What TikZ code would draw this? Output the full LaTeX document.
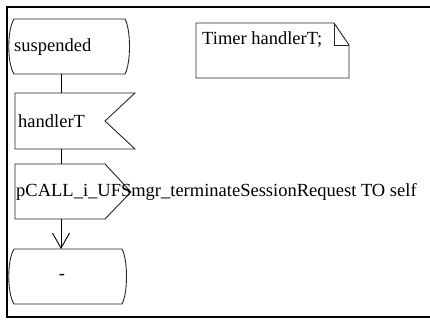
\documentclass[tikz,border=0pt]{standalone}
\usepackage{fontspec}
\setmainfont{Liberation Serif}
\usetikzlibrary{arrows.meta}
\begin{document}
\begin{tikzpicture}[x=1pt,y=-1pt,
  shape line/.style={draw=black!85,line width=0.9pt},
  frame line/.style={draw=black,line width=2.2pt},
  lbl/.style={anchor=west,inner sep=0pt,font=\fontsize{18.5}{20}\selectfont},
  flow/.style={draw=black,line width=0.9pt}]
\useasboundingbox (0,0) rectangle (430,320);
% frame
\draw[frame line] (430,7) -- (7,7) -- (7,317) -- (430,317);
% state suspended
\draw[shape line] (14,19) -- (125,19) .. controls (131,30) and (131,63) .. (125,74)
  -- (14,74) .. controls (7,63) and (7,30) .. (14,19);
\node[lbl] (st1) at (14,47) {suspended};
% input handlerT
\draw[shape line] (15,93) -- (135,93) -- (105,121) -- (135,149) -- (15,149) -- cycle;
\node[lbl] (inp) at (18,121) {handlerT};
% output
\draw[shape line] (15,164) -- (105,164) -- (131,192) -- (105,219) -- (15,219) -- cycle;
\node[lbl] (outp) at (16,192) {pCALL\_i\_UFSmgr\_terminateSessionRequest TO self};
% final state
\draw[shape line] (14,249) -- (122,249) .. controls (128,260) and (128,293) .. (122,304)
  -- (14,304) .. controls (7,293) and (7,260) .. (14,249);
\node[font=\fontsize{18.5}{20}\selectfont,inner sep=0pt] (st2) at (62,277) {-};
% text box
\draw[shape line] (196,23) -- (334,23) -- (349,45) -- (349,78) -- (196,78) -- cycle;
\draw[shape line] (334,23) -- (334,45) -- (349,45);
\node[lbl] (txt) at (202,40) {Timer handlerT;};
% connectors
\coordinate (c1) at (61,74);
\coordinate (c2) at (61,93);
\coordinate (c3) at (61,149);
\coordinate (c4) at (61,164);
\coordinate (c5) at (61,219);
\coordinate (c6) at (61,249);
\draw[flow] (c1) -- (c2);
\draw[flow] (c3) -- (c4);
\draw[flow,-{Straight Barb[length=15pt,width=17pt]}] (c5) -- (c6);
\end{tikzpicture}
\end{document}
